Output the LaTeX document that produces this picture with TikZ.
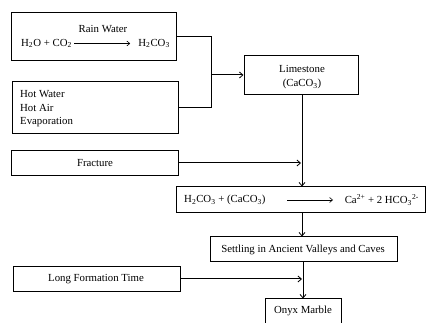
\documentclass[tikz,border=0pt]{standalone}
\usepackage{fontspec}
\setmainfont{Liberation Serif}
\usetikzlibrary{arrows.meta}
\begin{document}
\begin{tikzpicture}[x=1pt,y=-1pt,
  box/.style={draw, line width=1pt, inner sep=0pt, minimum width=#1},
  txt/.style={inner sep=0pt, font=\fontsize{10.8}{12}\selectfont},
  conn/.style={line width=1pt},
  arr/.style={line width=1pt, -{Straight Barb[length=3.5pt,width=6pt,line width=0.8pt]}}]
\useasboundingbox (0,0) rectangle (426,323);
\clip (0,0) rectangle (426,323);
% boxes
\node[box=165, minimum height=48] (b1) at (93.5,37) {};
\node[box=166, minimum height=52] (b2) at (95,108) {};
\node[box=114, minimum height=39] (lime) at (301,75.5) {};
\node[box=167, minimum height=25] (frac) at (94.5,163.5) {};
\node[box=249, minimum height=26] (react) at (301,200) {};
\node[box=187, minimum height=25] (settle) at (303.5,249.5) {};
\node[box=167, minimum height=25] (long) at (96.5,279.5) {};
\node[box=76, minimum height=28] (onyx) at (303,313) {};
% box 1 text
\node[txt] (rw) at (103,29) {Rain Water};
\node[txt, anchor=west] (h2o) at (21,43.5) {H\textsubscript{2}O + CO\textsubscript{2}};
\node[txt, anchor=east] (h2co3) at (170,43.5) {H\textsubscript{2}CO\textsubscript{3}};
\draw[line width=0.6pt, -{Straight Barb[length=3pt,width=5pt]}] ([xshift=2pt]h2o.east) -- ([xshift=-8pt]h2co3.west);
% box 2 text
\node[txt, anchor=west] (hw) at (20,94) {Hot Water};
\node[txt, anchor=west] (ha) at (20,108) {Hot Air};
\node[txt, anchor=west] (ev) at (20,122) {Evaporation};
% limestone text
\node[txt] (ls1) at (302,69) {Limestone};
\node[txt] (ls2) at (302,84) {(CaCO\textsubscript{3})};
% other text
\node[txt] (fr) at (95,163) {Fracture};
\node[txt, anchor=west] (r1) at (184,200) {H\textsubscript{2}CO\textsubscript{3} + (CaCO\textsubscript{3})};
\node[txt, anchor=east] (r2) at (419,200) {Ca\textsuperscript{2+} + 2 HCO\textsubscript{3}\textsuperscript{2-}};
\draw[line width=0.6pt, -{Straight Barb[length=3pt,width=5pt]}] (287,200) -- (333,200);
\node[txt] (st) at (303,249.5) {Settling in Ancient Valleys and Caves};
\node[txt] (lf) at (96,279) {Long Formation Time};
\node[txt] (ox) at (303,311) {Onyx Marble};
% connectors
\coordinate (j1) at (211,37);
\coordinate (j2) at (211,108);
\coordinate (j3) at (211,75);
\draw[conn] (b1.east |- j1) -- (j1) -- (j2) -- (b2.east |- j2);
\draw[arr] (j3) -- (lime.west |- j3);
\coordinate (lb) at (302,95);
\draw[arr] (lime.south -| lb) -- (react.north -| lb);
\coordinate (fj) at (301,163);
\draw[arr] (frac.east |- fj) -- (fj);
\draw[arr] (react.south -| lb) -- (settle.north -| lb);
\coordinate (oj) at (303,0);
\draw[arr] (settle.south -| oj) -- (onyx.north -| oj);
\coordinate (lj) at (302,279);
\draw[arr] (long.east |- lj) -- (lj);
\end{tikzpicture}
\end{document}
